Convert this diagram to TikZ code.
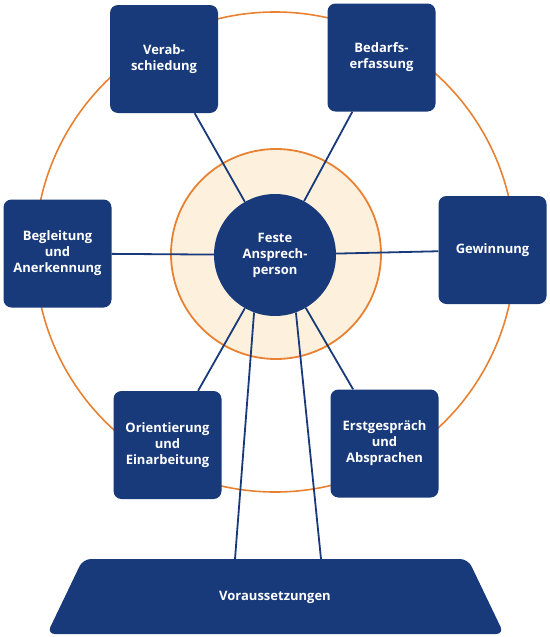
\documentclass[tikz,border=0pt]{standalone}
\usepackage{fontspec}
\setmainfont{Open Sans}
\definecolor{navy}{RGB}{24,58,122}
\definecolor{ringorange}{RGB}{232,130,50}
\definecolor{cream}{RGB}{253,241,222}
\tikzset{
  phasebox/.style={fill=navy, rounded corners=8pt, minimum width=108pt, minimum height=108pt,
    text=white, align=center, inner sep=2pt},
  spoke/.style={draw=navy, line width=1.8pt}
}
\begin{document}
\begin{tikzpicture}[x=1pt, y=-1pt, font=\fontsize{13}{16}\selectfont\bfseries]
  \useasboundingbox (0,0) rectangle (549,637);
  % Wheel rim and inner ring
  \draw[ringorange, line width=1.6pt] (275,252) circle[radius=240];
  \draw[ringorange, line width=1.8pt, fill=cream] (276,254) circle[radius=105];
  % Hub
  \node[circle, fill=navy, minimum size=122pt, text=white, align=center] (hub) at (275,255) {Feste\\Ansprech-\\person};
  % Gondolas
  \node[phasebox] (verab) at (164,59) {Verab-\\schiedung};
  \node[phasebox] (bedarf) at (381.5,57.5) {Bedarfs-\\erfassung};
  \node[phasebox] (begleit) at (57.5,253.5) {Begleitung\\und\\Anerkennung};
  \node[phasebox] (gewinn) at (492.5,250) {Gewinnung};
  \node[phasebox] (orient) at (167.5,445) {Orientierung\\und\\Einarbeitung};
  \node[phasebox] (erst) at (384.5,443.5) {Erstgespräch\\und\\Absprachen};
  % Base
  \fill[navy, rounded corners=8pt] (47,634) -- (83,559) -- (468,559) -- (504,634) -- cycle;
  \node[text=white] (basis) at (275,597) {Voraussetzungen};
  \coordinate (legL) at (235,559);
  \coordinate (legR) at (321,559);
  % Spokes
  \foreach \g in {verab, bedarf, begleit, gewinn, orient, erst}
    \draw[spoke] (hub) -- (\g);
  % Legs
  \draw[spoke] (hub.250) -- (legL);
  \draw[spoke] (hub.290) -- (legR);
\end{tikzpicture}
\end{document}
